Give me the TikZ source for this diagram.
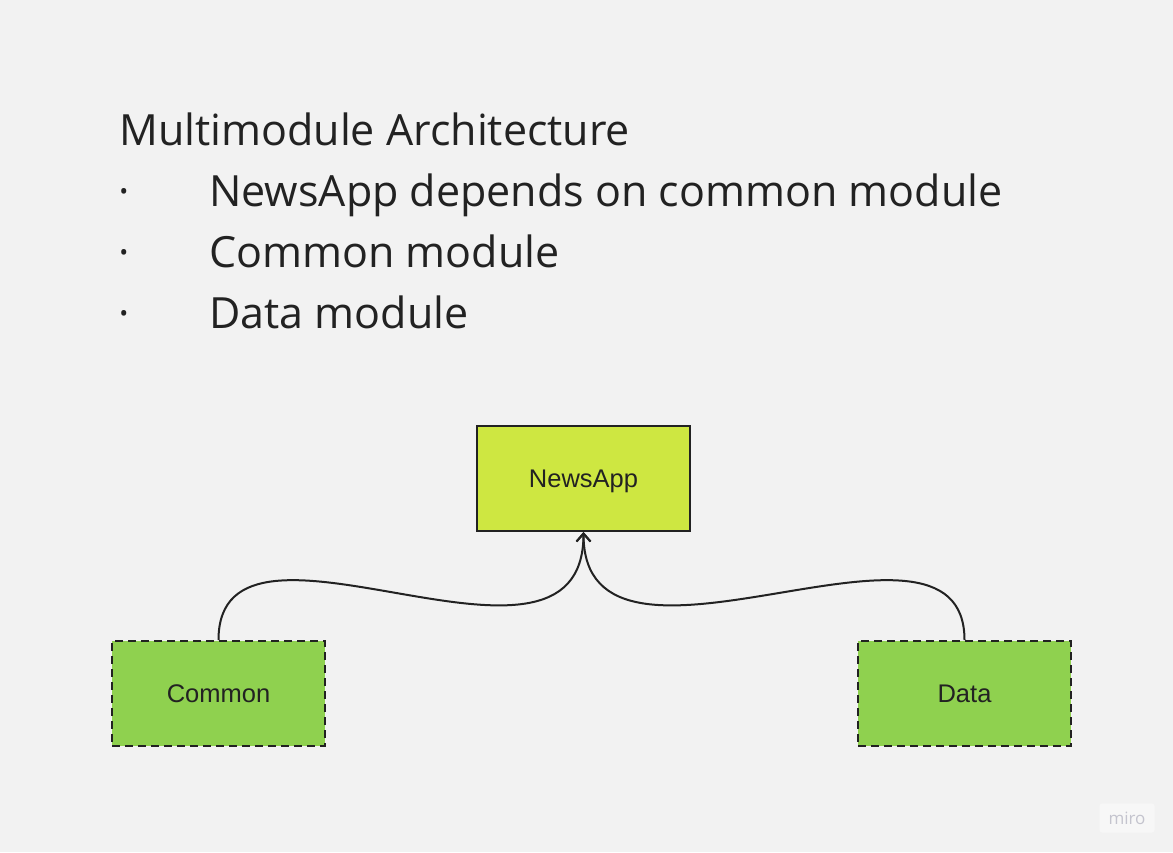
\documentclass[tikz,border=0pt]{standalone}
\usepackage{fontspec}
\newfontfamily\slidefont{Open Sans}
\newfontfamily\boxfont{Liberation Sans}
\usetikzlibrary{positioning,arrows.meta}
\definecolor{board}{RGB}{242,242,242}
\definecolor{app}{RGB}{206,231,65}
\definecolor{module}{RGB}{143,209,79}
\definecolor{ink}{RGB}{34,34,34}
\definecolor{mark}{RGB}{196,196,206}
\definecolor{markbg}{RGB}{247,247,247}
\tikzset{
  box/.style={draw=ink, line width=2pt, align=center, font=\boxfont\fontsize{25.5}{30}\selectfont,
              minimum width=213pt, minimum height=105pt, inner sep=0pt, text depth=0pt, text=ink},
  appbox/.style={box, fill=app},
  modbox/.style={box, fill=module, dash pattern=on 8pt off 5pt},
  dep/.style={-{Straight Barb[length=8pt,width=14pt,line width=2pt]}, line width=2pt, draw=ink},
  line/.style={font=\slidefont\fontsize{43}{50}\selectfont, text=ink, anchor=base west, inner sep=0pt},
}

\begin{document}
\begin{tikzpicture}[x=1pt, y=-1pt]
  \fill[board] (0,0) rectangle (1173,852);
  \useasboundingbox (0,0) rectangle (1173,852);

  \node[line] (title) at (119,145) {Multimodule Architecture};
  \foreach \i/\t in {1/NewsApp depends on common module, 2/Common module, 3/Data module} {
    \node[line] (dot\i) at (118,145+61*\i) {·};
    \node[line] (item\i) at (209,145+61*\i) {\t};
  }

  \node[appbox] (news) at (583.5,478.5) {NewsApp};
  \node[modbox] (common) at (218.5,693.5) {Common};
  \node[modbox] (data) at (964.5,693.5) {Data};

  \draw[dep] (common.north) .. controls +(0,-160) and +(0,180) .. (news.south);
  \draw[dep] (data.north) .. controls +(0,-160) and +(0,180) .. (news.south);

  \node[draw=markbg, fill=markbg, rounded corners=3pt, minimum width=55pt, minimum height=29pt,
        font=\slidefont\fontsize{17}{20}\selectfont, text=mark] (miro) at (1127,818) {miro};
\end{tikzpicture}
\end{document}
